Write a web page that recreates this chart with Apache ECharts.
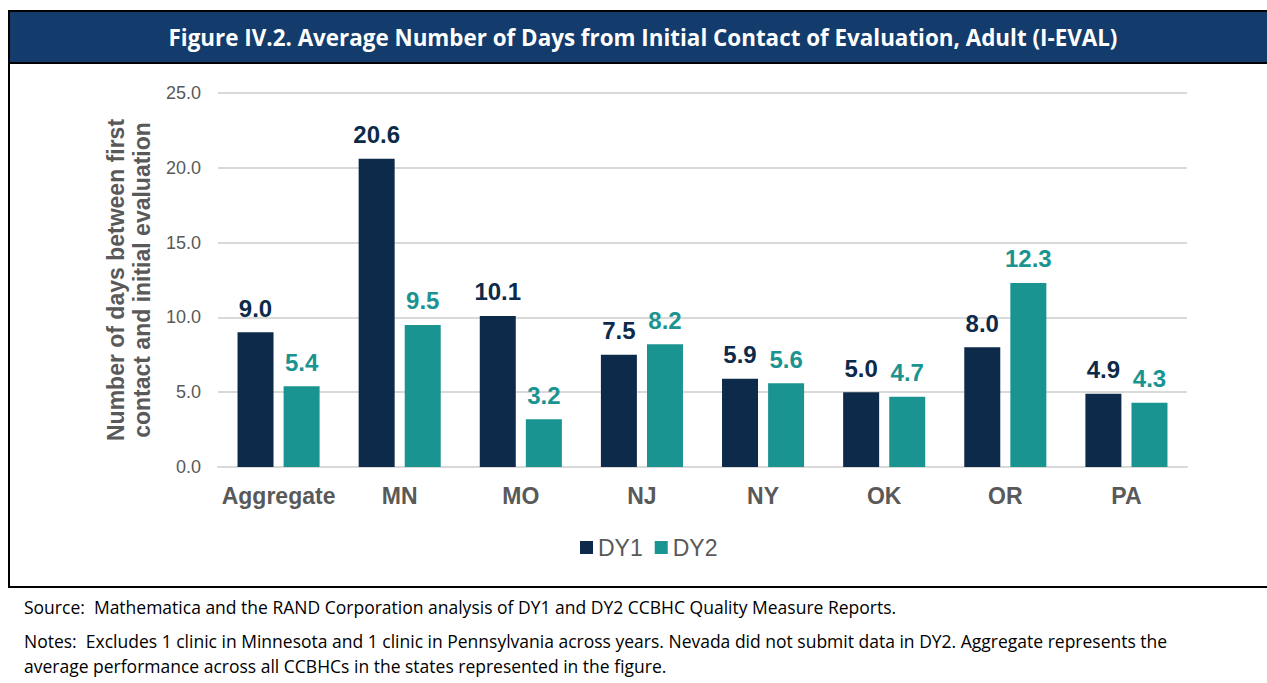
<!DOCTYPE html>
<html><head><meta charset="utf-8">
<script src="https://cdn.jsdelivr.net/npm/echarts@6/dist/echarts.min.js"></script>
<style>html,body{margin:0;padding:0;background:#fff}#c{width:1267px;height:683px}</style>
</head><body><div id="c"></div>
<script>
var categories = ['Aggregate','MN','MO','NJ','NY','OK','OR','PA'];
var dy1 = [9.0,20.6,10.1,7.5,5.9,5.0,8.0,4.9];
var dy2 = [5.4,9.5,3.2,8.2,5.6,4.7,12.3,4.3];
var seriesNames = ['DY1','DY2'];
var yTicks = {min:0,max:25,interval:5};
var titleText = 'Figure IV.2. Average Number of Days from Initial Contact of Evaluation, Adult (I-EVAL)';
var yAxisName = 'Number of days between first\ncontact and initial evaluation';
var sourceText = 'Source:  Mathematica and the RAND Corporation analysis of DY1 and DY2 CCBHC Quality Measure Reports.';
var notesLine1 = 'Notes:  Excludes 1 clinic in Minnesota and 1 clinic in Pennsylvania across years. Nevada did not submit data in DY2. Aggregate represents the';
var notesLine2 = 'average performance across all CCBHCs in the states represented in the figure.';

var C1 = '#0d2a4a', C2 = '#1a9490', GREY = '#595959';
var chart = echarts.init(document.getElementById('c'), null, {renderer:'svg'});
var labelFont = {show:true, position:'top', distance:12, fontFamily:'Liberation Sans', fontWeight:'bold', fontSize:24};
chart.setOption({
  animation:false,
  textStyle:{fontFamily:'Liberation Sans'},
  grid:{left:218,right:80,top:93,bottom:216},
  legend:{data:seriesNames, top:531, left:575, itemWidth:13, itemHeight:13, itemGap:12,
    icon:'rect', textStyle:{fontSize:23,color:GREY,fontFamily:'Liberation Sans'}},
  xAxis:{type:'category', data:categories, axisTick:{show:false},
    axisLine:{lineStyle:{color:'#d9d9d9',width:2}},
    axisLabel:{interval:0,fontSize:23,fontWeight:'bold',color:GREY,margin:17}},
  yAxis:{type:'value', min:yTicks.min, max:yTicks.max, interval:yTicks.interval,
    axisLabel:{formatter:function(v){return v.toFixed(1);},fontSize:18,color:GREY,margin:17},
    splitLine:{lineStyle:{color:'#d9d9d9',width:2}},
    name:yAxisName, nameLocation:'middle', nameGap:62, nameRotate:90,
    nameTextStyle:{fontSize:23,fontWeight:'bold',color:GREY,lineHeight:26}},
  series:[
    {name:seriesNames[0], type:'bar', data:dy1, barWidth:36, barGap:'28%', itemStyle:{color:C1},
      label:Object.assign({color:C1,formatter:function(p){return p.value.toFixed(1);}},labelFont)},
    {name:seriesNames[1], type:'bar', data:dy2, barWidth:36, itemStyle:{color:C2},
      label:Object.assign({color:C2,formatter:function(p){return p.value.toFixed(1);}},labelFont)}
  ],
  graphic:[
    {type:'rect', shape:{x:9,y:11,width:1270,height:576}, style:{fill:'none',stroke:'#000',lineWidth:2}, silent:true},
    {type:'rect', shape:{x:9,y:11,width:1270,height:52}, style:{fill:'#133b6b',stroke:'#000',lineWidth:2}, silent:true},
    {type:'text', x:643, y:37, style:{text:titleText, fill:'#fff', font:'bold 22.4px "Open Sans"', textAlign:'center', textVerticalAlign:'middle'}},
    {type:'text', x:24, y:607, style:{text:sourceText, fill:'#000', font:'17.5px "Open Sans"', textVerticalAlign:'middle'}},
    {type:'text', x:24, y:641, style:{text:notesLine1, fill:'#000', font:'17.5px "Open Sans"', textVerticalAlign:'middle'}},
    {type:'text', x:24, y:666, style:{text:notesLine2, fill:'#000', font:'17.5px "Open Sans"', textVerticalAlign:'middle'}}
  ]
});
</script></body></html>
